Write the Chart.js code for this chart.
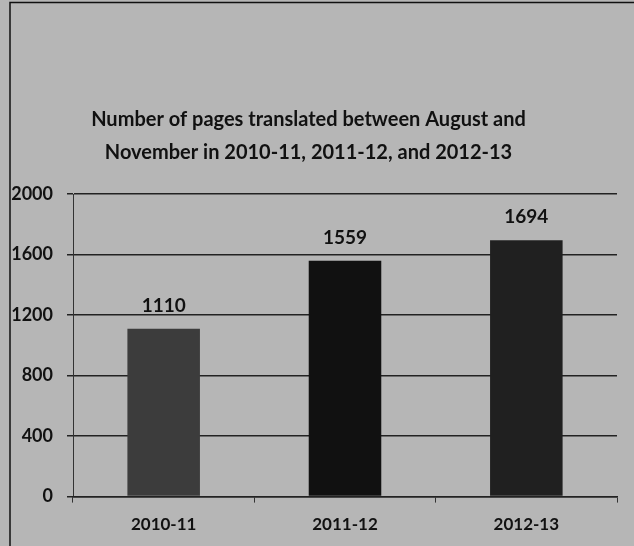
<!DOCTYPE html>
<html>
<head>
<meta charset="utf-8">
<script src="https://cdn.jsdelivr.net/npm/chart.js@4"></script>
<style>
  body { margin: 0; background: #b6b6b6; }
  #wrap { position: relative; width: 634px; height: 546px; }
</style>
</head>
<body>
<div id="wrap"><canvas id="myChart" width="634" height="546"></canvas></div>
<script>
// data
const years = ['2010-11', '2011-12', '2012-13'];
const pages = [1110, 1559, 1694];
const barColors = ['#3c3c3c', '#111111', '#202020'];
const titleLines = ['Number of pages translated between August and', 'November in 2010-11, 2011-12, and 2012-13'];

// paper background + the scan's frame lines
const paper = {
    id: 'paper',
    beforeDraw(chart) {
        const c = chart.ctx;
        c.save();
        c.fillStyle = '#b6b6b6';
        c.fillRect(0, 0, chart.width, chart.height);
        c.strokeStyle = '#111';
        c.lineWidth = 1.5;
        c.beginPath();
        c.moveTo(10, 546); c.lineTo(10, 2.5); c.lineTo(634, 2.5);
        c.stroke();
        c.restore();
    }
};

// value labels over the bars
const valueLabels = {
    id: 'valueLabels',
    afterDatasetsDraw(chart) {
        const c = chart.ctx;
        const meta = chart.getDatasetMeta(0);
        c.save();
        c.font = 'bold 19px Lato';
        c.fillStyle = '#111';
        c.textAlign = 'center';
        c.textBaseline = 'middle';
        meta.data.forEach((bar, i) => {
            c.fillText(pages[i], bar.x, bar.y - 23);
        });
        c.restore();
    }
};

const ctx = document.querySelector('#myChart').getContext('2d');
const myChart = new Chart(ctx, {
    type: 'bar',
    data: {
        labels: years,
        datasets: [{
            data: pages,
            backgroundColor: barColors,
            borderWidth: 0,
            barPercentage: 0.4,
            categoryPercentage: 1
        }]
    },
    options: {
        responsive: false,
        animation: false,
        layout: { padding: { left: 0, right: 17, bottom: 0 } },
        plugins: {
            legend: { display: false },
            tooltip: { enabled: false },
            title: {
                display: true,
                text: titleLines,
                color: '#111',
                font: { family: 'Lato', size: 20, weight: 'bold', lineHeight: 1.65 },
                padding: { top: 103, bottom: 25 }
            }
        },
        scales: {
            y: {
                min: 0,
                max: 2000,
                ticks: {
                    stepSize: 400,
                    color: '#111',
                    padding: 14,
                    font: { family: 'Lato', size: 18, weight: 'bold' },
                    callback: v => String(v)
                },
                grid: { color: '#222', lineWidth: 1.5, tickLength: 6 },
                border: { color: '#333', width: 1 },
                afterFit(scale) { scale.width = 73; }
            },
            x: {
                ticks: {
                    color: '#111',
                    padding: 11.5,
                    font: { family: 'Lato', size: 17, weight: 'bold' }
                },
                grid: { display: true, drawOnChartArea: false, color: '#333', tickLength: 6, offset: true },
                border: { color: '#222', width: 1.5 }
            }
        }
    },
    plugins: [paper, valueLabels]
});
</script>
</body>
</html>
